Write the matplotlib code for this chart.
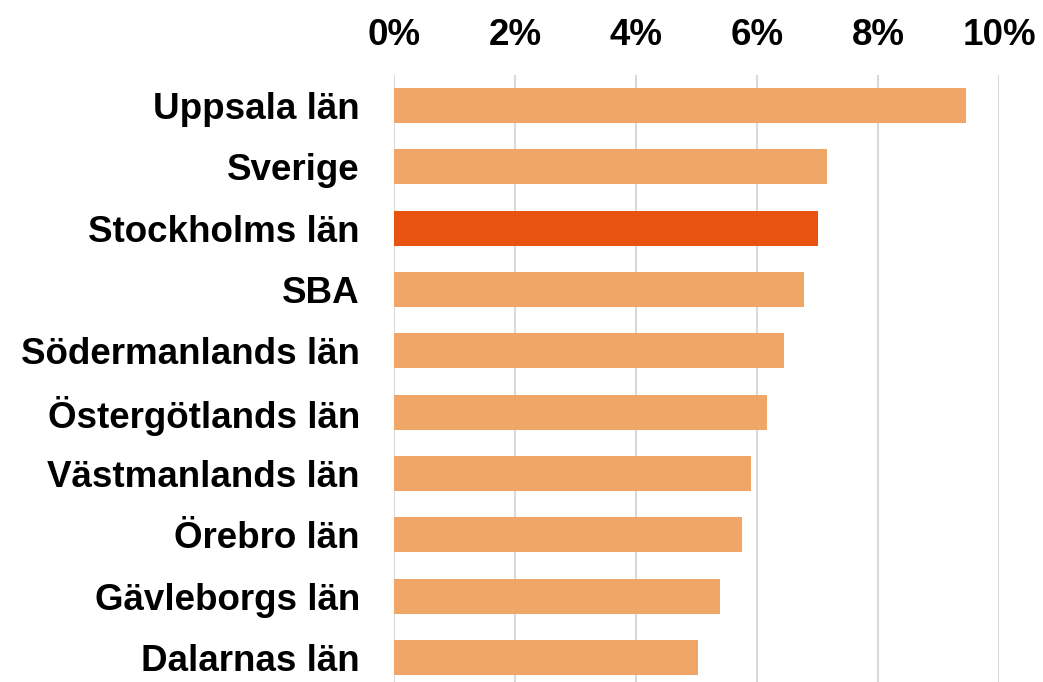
import matplotlib
matplotlib.use("Agg")
import matplotlib.pyplot as plt
from matplotlib.ticker import FuncFormatter

categories = ["Uppsala län", "Sverige", "Stockholms län", "SBA", "Södermanlands län",
              "Östergötlands län", "Västmanlands län", "Örebro län", "Gävleborgs län", "Dalarnas län"]
values = [9.46, 7.15, 7.00, 6.77, 6.44, 6.16, 5.90, 5.76, 5.39, 5.02]
highlight = "Stockholms län"
xticks = [0, 2, 4, 6, 8, 10]

light = "#F0A666"
dark = "#E8530F"

plt.rcParams['font.family'] = ['Liberation Sans', 'DejaVu Sans']

W, H = 1043, 682
fig = plt.figure(figsize=(W / 100, H / 100), dpi=100)
left, right, top, bottom = 394, 999, 75, 688
ax = fig.add_axes([left / W, (H - bottom) / H, (right - left) / W, (bottom - top) / H])

colors = [dark if c == highlight else light for c in categories]
ypos = list(range(len(categories)))
ax.barh(ypos, values, height=0.57, color=colors, zorder=3)
ax.set_ylim(len(categories) - 0.5, -0.5)
ax.set_xlim(0, 10)
ax.set_yticks(ypos)
ax.set_yticklabels(categories, fontsize=26.5, fontweight='bold', va='center_baseline')
ax.set_xticks(xticks)
ax.xaxis.set_major_formatter(FuncFormatter(lambda v, p: f"{v:.0f}%"))
ax.xaxis.tick_top()
for lab in ax.get_xticklabels():
    lab.set_fontsize(26.5)
    lab.set_fontweight('bold')
ax.tick_params(axis='x', length=0, pad=16)
ax.tick_params(axis='y', length=0, pad=24.5)
ax.grid(axis='x', color='#D9D9D9', linewidth=1.5, zorder=0)
for s in ax.spines.values():
    s.set_visible(False)

fig.savefig("out.png", dpi=100)
